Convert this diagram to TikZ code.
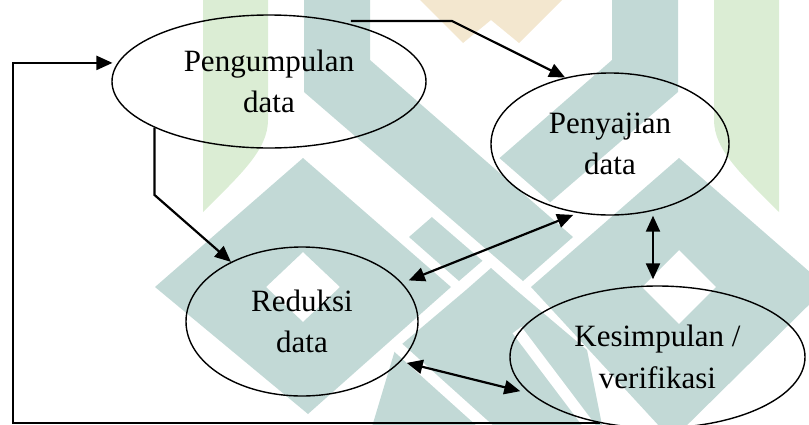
\documentclass[tikz,border=0pt]{standalone}
\usepackage{fontspec}
\setmainfont{Liberation Serif}
\usetikzlibrary{shapes.geometric,arrows.meta}
\definecolor{wteal}{RGB}{194,217,214}
\definecolor{wgreen}{RGB}{219,237,212}
\definecolor{wtan}{RGB}{243,231,207}
\tikzset{
  proc/.style={ellipse, draw, line width=1.4pt, inner sep=0pt, align=center,
    font=\fontsize{31}{41.5}\selectfont},
  tip/.tip={Triangle[length=16pt,width=14pt]},
  conn/.style={line width=2.2pt, -tip},
  dconn/.style={line width=2.2pt, tip-tip},
  gap/.style={white, line width=11pt}
}
\begin{document}
\begin{tikzpicture}[x=1pt,y=-1pt]
\useasboundingbox (0,0) rectangle (809,424);
% watermark
\fill[wgreen] (203,0) -- (268,0) -- (268,120) .. controls (268,150) and (240,175) .. (203,212) -- cycle;
\fill[wgreen] (779,0) -- (714,0) -- (714,120) .. controls (714,150) and (742,175) .. (779,212) -- cycle;
\fill[wtan] (420,0) -- (463,43) -- (491,20) -- (519,43) -- (562,0) -- cycle;
\fill[wteal] (678,0) -- (612,0) -- (612,60) -- (409,237) -- (459,281) -- (678,92) -- cycle;
\draw[white, line width=22pt, line join=miter] (370,-20) -- (370,60) -- (573,237) -- (523,281) -- (304,92);
\fill[wteal] (304,0) -- (370,0) -- (370,60) -- (573,237) -- (523,281) -- (304,92) -- cycle;
\fill[wteal,even odd rule] (155,287) -- (303,158) -- (451,287) -- (308,414) -- cycle
  (266,287) -- (303,252) -- (340,287) -- (303,322) -- cycle;
\fill[wteal,even odd rule] (531,287) -- (679,158) -- (827,287) -- (672,440) -- cycle
  (642,287) -- (679,250) -- (716,287) -- (679,324) -- cycle;
\fill[wteal] (491,268) -- (516,290) -- (587,350) -- (603,430) -- (371,430)
  -- (395,350) -- (466,290) -- cycle;
\draw[gap] (393,343) -- (492,432);
\draw[gap] (517,330) -- (594,432);
% nodes
\node[proc, minimum width=314pt, minimum height=133pt] (peng) at (269,81.5) {Pengumpulan\\data};
\node[proc, minimum width=238pt, minimum height=142pt] (pen) at (610,144) {Penyajian\\data};
\node[proc, minimum width=232pt, minimum height=149pt] (red) at (302,321.5) {Reduksi\\data};
\node[proc, minimum width=295pt, minimum height=142pt] (kes) at (657.5,357) {Kesimpulan /\\verifikasi};
% connectors
\coordinate (c1) at (452,21);
\coordinate (c2) at (0,195);
\coordinate (c4) at (653,0);
\coordinate (lb) at (13,423);
\draw[conn] (c1 -| peng.35) -- (c1) -- (pen.124);
\draw[conn] (peng.202) -- (peng.202 |- c2) -- (red.140);
\draw[dconn, shorten <=7pt, shorten >=5pt] (red.21) -- (pen.245);
\draw[dconn, shorten >=6pt] (c4 |- pen.south) -- (c4 |- kes.north);
\draw[dconn, shorten <=6pt, shorten >=10pt] (red.-22) -- (kes.196);
\draw[conn, shorten >=5pt] (kes.229) -- (kes.229 -| lb) |- (peng.173);
\end{tikzpicture}
\end{document}
